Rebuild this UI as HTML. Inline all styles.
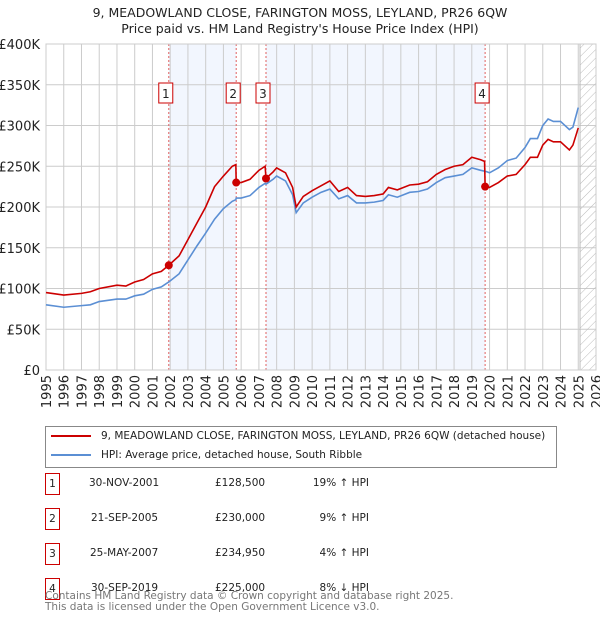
<!DOCTYPE html>
<html><head><meta charset="utf-8"><style>
body{margin:0;background:#fff;font-family:"Liberation Sans","DejaVu Sans",sans-serif;}
#wrap{position:relative;width:600px;height:620px;overflow:hidden;}
.cell{position:absolute;white-space:nowrap;}
</style></head><body><div id="wrap">
<svg id="svg" width="600" height="620" xmlns="http://www.w3.org/2000/svg" font-family="DejaVu Sans, Liberation Sans, sans-serif">
<defs><pattern id="hatch" width="6" height="6" patternUnits="userSpaceOnUse" patternTransform="rotate(45)"><line x1="0" y1="0" x2="0" y2="6" stroke="#bbb" stroke-width="1"/></pattern></defs>
<text x="300" y="17" text-anchor="middle" font-size="12.5" fill="#222">9, MEADOWLAND CLOSE, FARINGTON MOSS, LEYLAND, PR26 6QW</text>
<text x="300" y="33" text-anchor="middle" font-size="12.5" fill="#222">Price paid vs. HM Land Registry's House Price Index (HPI)</text>
<g id="plot"></g>
</svg>
<script>
const dates=[1995.0,1996.0,1997.0,1997.5,1998.0,1999.0,1999.5,2000.0,2000.5,2001.0,2001.5,2001.92,2002.5,2003.0,2003.5,2004.0,2004.5,2005.0,2005.5,2005.7,2005.72,2006.0,2006.5,2007.0,2007.35,2007.4,2007.8,2008.0,2008.5,2008.9,2009.1,2009.5,2010.0,2010.5,2011.0,2011.5,2012.0,2012.5,2013.0,2013.5,2014.0,2014.3,2014.8,2015.5,2016.0,2016.5,2017.0,2017.5,2018.0,2018.5,2019.0,2019.5,2019.72,2019.75,2020.0,2020.5,2021.0,2021.5,2022.0,2022.3,2022.7,2023.0,2023.3,2023.6,2024.0,2024.5,2024.7,2025.0];
const hpiValues=[80,77,79,80,84,87,87,91,93,99,102,108,118,135,152,168,185,198,207,209,211,211,214,224,229,228,234,238,232,215,193,205,212,218,222,210,214,205,205,206,208,215,212,218,219,222,230,236,238,240,248,245,244,244,242,248,257,260,273,284,284,300,308,305,305,295,298,322];
const priceValues=[95,92,94,96,100,104,103,108,111,118,121,128.5,140,160,180,200,225,238,250,252,230,230,234,245,250,235,243,248,242,224,200,213,220,226,232,219,224,214,213,214,216,224,221,227,228,231,240,246,250,252,261,258,256,225,224,230,238,240,252,261,261,276,283,280,280,270,276,297];
const saleDates=[2001.92,2005.72,2007.4,2019.75];
const salePrices=[128.5,230,234.95,225];
const saleLabels=["1","2","3","4"];
const yTicks=[0,50,100,150,200,250,300,350,400];
const yTickLabels=["£0","£50K","£100K","£150K","£200K","£250K","£300K","£350K","£400K"];
const xTicks=[1995,1996,1997,1998,1999,2000,2001,2002,2003,2004,2005,2006,2007,2008,2009,2010,2011,2012,2013,2014,2015,2016,2017,2018,2019,2020,2021,2022,2023,2024,2025,2026];

const X0=46,X1=596,Y0=370,Y1=44;
const xs=d=>X0+(d-1995)/(2026-1995)*(X1-X0);
const ys=v=>Y0-v/400*(Y0-Y1);
const NS="http://www.w3.org/2000/svg";
const g=document.getElementById('plot');
function mk(t,a,p){const e=document.createElementNS(NS,t);for(const k in a)e.setAttribute(k,a[k]);(p||g).appendChild(e);return e;}

let e;
e=mk('rect',{x:xs(saleDates[0]),y:Y1,width:xs(saleDates[1])-xs(saleDates[0]),height:Y0-Y1,fill:'#f2f6fe'});


e=mk('rect',{x:xs(saleDates[2]),y:Y1,width:xs(saleDates[3])-xs(saleDates[2]),height:Y0-Y1,fill:'#f2f6fe'});


yTicks.forEach((t,i)=>{
  const l=mk('line',{x1:X0,x2:X1,y1:ys(t),y2:ys(t),stroke:'#cccccc','stroke-width':1});
  
  
  const tx=mk('text',{x:X0-6,y:ys(t)+5,'text-anchor':'end','font-size':13,fill:'#222'});
  tx.textContent=yTickLabels[i];
  
  
});
xTicks.forEach(t=>{
  const l=mk('line',{x1:xs(t),x2:xs(t),y1:Y1,y2:Y0,stroke:'#cccccc','stroke-width':1});
  
  
  const tx=mk('text',{x:0,y:0,'text-anchor':'end','font-size':13,fill:'#222',transform:`translate(${xs(t)+5},${Y0+5}) rotate(-90)`});
  tx.textContent=t;
  
  
});
e=mk('rect',{x:xs(2025.1),y:Y1,width:X1-xs(2025.1),height:Y0-Y1,fill:'url(#hatch)',stroke:'#bbb'});


saleDates.forEach(d=>{
  const l=mk('line',{x1:xs(d),x2:xs(d),y1:Y1,y2:Y0,stroke:'#e06060','stroke-width':1,'stroke-dasharray':'2,2'});
  
  
});
e=mk('rect',{x:X0,y:Y1,width:X1-X0,height:Y0-Y1,fill:'none',stroke:'#cccccc'});


const hp=mk('polyline',{points:dates.map((d,i)=>xs(d)+','+ys(hpiValues[i])).join(' '),fill:'none',stroke:'#5b8fd4','stroke-width':1.6});


const pp=mk('polyline',{points:dates.map((d,i)=>xs(d)+','+ys(priceValues[i])).join(' '),fill:'none',stroke:'#cc0000','stroke-width':1.6});


saleDates.forEach((d,i)=>{
  const c=mk('circle',{cx:xs(d),cy:ys(salePrices[i]),r:4,fill:'#cc0000'});
  
  
  const r=mk('rect',{x:xs(d)-10,y:83,width:14,height:20,fill:'#fff',stroke:'#cc0000'});
  
  
  const t=mk('text',{x:xs(d)-3,y:98,'text-anchor':'middle','font-size':12,fill:'#222'});
  t.textContent=saleLabels[i];
  
  
});
</script>
<div style="position:absolute;left:45px;top:426px;width:510px;height:40px;border:1px solid #888;font-family:'DejaVu Sans','Liberation Sans',sans-serif;font-size:10.5px;color:#222;">
 <div style="position:absolute;left:5px;top:3px;white-space:nowrap;"><span style="display:inline-block;width:40px;height:2px;background:#cc0000;vertical-align:middle;margin-right:10px"></span>9, MEADOWLAND CLOSE, FARINGTON MOSS, LEYLAND, PR26 6QW (detached house)</div>
 <div style="position:absolute;left:5px;top:22px;white-space:nowrap;"><span style="display:inline-block;width:40px;height:2px;background:#5b8fd4;vertical-align:middle;margin-right:10px"></span>HPI: Average price, detached house, South Ribble</div>
</div>
<div style="position:absolute;left:0;top:0;font-family:'DejaVu Sans','Liberation Sans',sans-serif;font-size:10.5px;color:#222;">
 <div>
  <div class="cell" style="left:45px;top:473px;width:13px;height:20px;border:1px solid #cc0000;text-align:center;line-height:20px">1</div>
  <div class="cell" style="left:89px;top:477px">30-NOV-2001</div>
  <div class="cell" style="left:215px;top:477px">£128,500</div>
  <div class="cell" style="left:300px;top:477px;width:69px;text-align:right">19% ↑ HPI</div>
 </div>
 <div>
  <div class="cell" style="left:45px;top:508px;width:13px;height:20px;border:1px solid #cc0000;text-align:center;line-height:20px">2</div>
  <div class="cell" style="left:91px;top:512px">21-SEP-2005</div>
  <div class="cell" style="left:215px;top:512px">£230,000</div>
  <div class="cell" style="left:300px;top:512px;width:69px;text-align:right">9% ↑ HPI</div>
 </div>
 <div>
  <div class="cell" style="left:45px;top:543px;width:13px;height:20px;border:1px solid #cc0000;text-align:center;line-height:20px">3</div>
  <div class="cell" style="left:90px;top:547px">25-MAY-2007</div>
  <div class="cell" style="left:215px;top:547px">£234,950</div>
  <div class="cell" style="left:300px;top:547px;width:69px;text-align:right">4% ↑ HPI</div>
 </div>
 <div>
  <div class="cell" style="left:45px;top:578px;width:13px;height:20px;border:1px solid #cc0000;text-align:center;line-height:20px">4</div>
  <div class="cell" style="left:91px;top:582px">30-SEP-2019</div>
  <div class="cell" style="left:215px;top:582px">£225,000</div>
  <div class="cell" style="left:300px;top:582px;width:69px;text-align:right">8% ↓ HPI</div>
 </div>
</div>
<div style="position:absolute;left:45px;top:591px;font-family:'DejaVu Sans','Liberation Sans',sans-serif;font-size:10.5px;color:#777;line-height:11px;white-space:nowrap">Contains HM Land Registry data © Crown copyright and database right 2025.<br>This data is licensed under the Open Government Licence v3.0.</div>
</div></body></html>
